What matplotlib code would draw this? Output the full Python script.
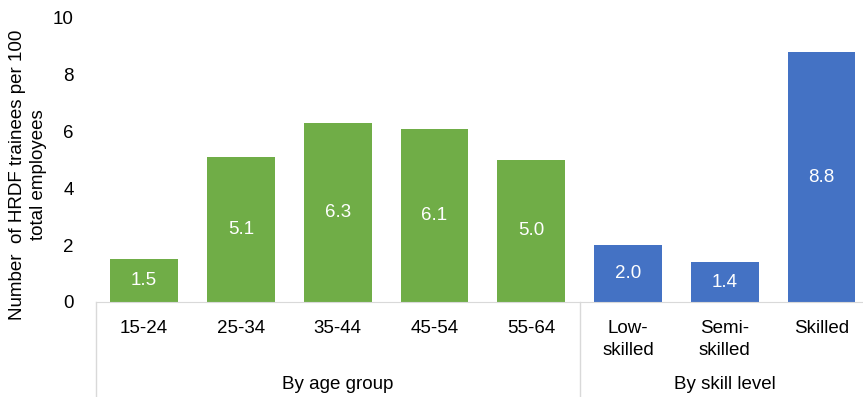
import numpy as np
import matplotlib
matplotlib.use('Agg')
import matplotlib.pyplot as plt
import matplotlib.transforms as mtransforms

plt.rcParams['font.family'] = ['Liberation Sans', 'DejaVu Sans']

categories = ['15-24', '25-34', '35-44', '45-54', '55-64', 'Low-\nskilled', 'Semi-\nskilled', 'Skilled']
values = [1.5, 5.1, 6.3, 6.1, 5.0, 2.0, 1.4, 8.8]
groups = ['By age group', 'By skill level']
group_sizes = [5, 3]
group_colors = ['#70AD47', '#4472C4']

fs = 13.5
fig = plt.figure(figsize=(8.63, 3.97), dpi=100)
ax = fig.add_axes([0.111, 0.2393, 0.897, 0.7154])

colors = []
for c, n in zip(group_colors, group_sizes):
    colors += [c] * n
x = np.arange(len(categories))
bars = ax.bar(x, values, width=0.70, color=colors)
for b, v in zip(bars, values):
    ax.text(b.get_x() + b.get_width() / 2, v / 2, f'{v:.1f}', ha='center', va='center',
            color='white', fontsize=fs)

ax.set_xlim(-0.5, len(categories) - 0.5)
ax.set_ylim(0, 10)
ax.set_yticks([0, 2, 4, 6, 8, 10])
ax.tick_params(axis='y', length=0, labelsize=fs, pad=16)
ax.set_xticks(x)
ax.set_xticklabels(categories, fontsize=fs, va='top', linespacing=1.35)
ax.tick_params(axis='x', length=0, pad=13)
for s in ['top', 'right', 'left']:
    ax.spines[s].set_visible(False)
ax.spines['bottom'].set_color('#D9D9D9')

ax.set_ylabel('Number  of HRDF trainees per 100\ntotal employees', fontsize=fs,
              linespacing=1.3, va='center')
ax.yaxis.set_label_coords(-0.087, 0.447)

# group separators and labels
trans = mtransforms.blended_transform_factory(ax.transData, ax.transAxes)
bottom = -0.2393 / 0.7154
start = -0.5
for g, n in zip(groups, group_sizes):
    ax.plot([start, start], [0, bottom], color='#D9D9D9', lw=1, transform=trans, clip_on=False)
    ax.text(start + n / 2, -0.29, g, ha='center', va='center', fontsize=fs, transform=trans)
    start += n
ax.plot([start, start], [0, bottom], color='#D9D9D9', lw=1, transform=trans, clip_on=False)

fig.savefig('out.png', dpi=100)
